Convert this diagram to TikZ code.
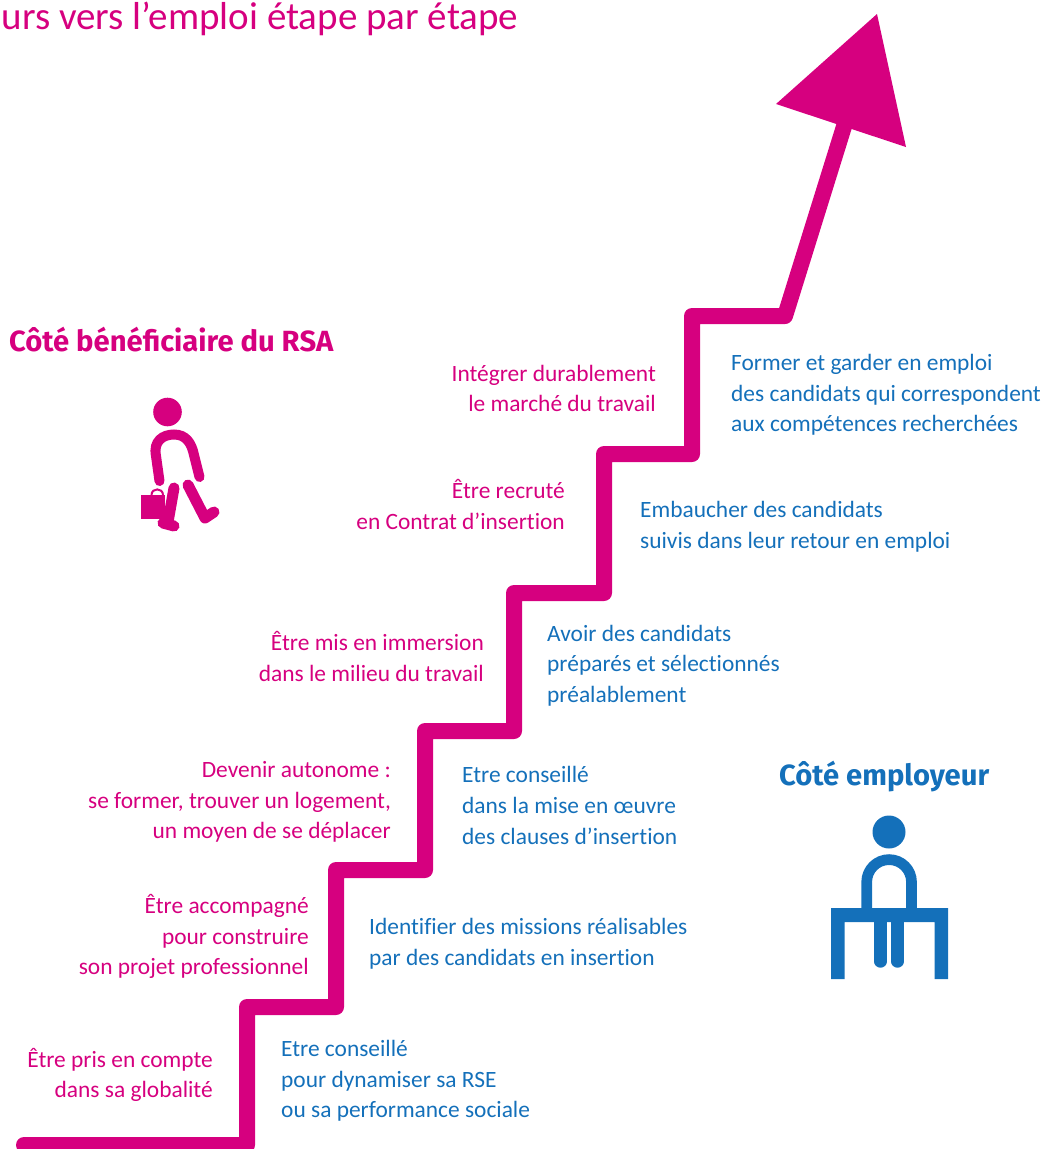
\documentclass[tikz,border=0pt]{standalone}
\usepackage{fontspec}
\setmainfont[Ligatures=NoCommon]{Carlito}
\newfontfamily\headf{Fira Sans}
\definecolor{mag}{HTML}{D6007F}
\definecolor{blu}{HTML}{1470BA}
\tikzset{
 lbl/.style={font=\fontsize{23.4}{30.6}\selectfont,inner sep=0pt},
 magl/.style={lbl,text=mag,align=right,anchor=east},
 blul/.style={lbl,text=blu,align=left,anchor=west},
 head/.style={font=\headf\fontsize{29.2}{32}\selectfont\bfseries,inner sep=0pt,anchor=base west},
 stair/.style={draw=mag,line width=16pt,line join=round,line cap=round},
}
\begin{document}
\begin{tikzpicture}[x=1pt,y=-1pt]
\useasboundingbox (0,0) rectangle (1046,1149);
\clip (0,0) rectangle (1046,1149);
% staircase
\draw[stair] (24,1145) -- (247,1145) -- (247,1007) -- (336,1007) -- (336,870) -- (425,870) -- (425,731) -- (514,731) -- (514,593) -- (604,593) -- (604,454) -- (692,454) -- (692,316) -- (785,316) -- (846,120);
\fill[mag] (877,14) -- (776,104) -- (906,147) -- cycle;
% title
\node[inner sep=0pt,anchor=base west,text=mag,font=\fontsize{39}{42}\selectfont] (title) at (1.5,29) {urs vers l’emploi étape par étape};
% headings
\node[head,text=mag] (hb) at (9,351) {Côté bénéficiaire du RSA};
\node[head,text=blu] (he) at (779,785) {Côté employeur};
% magenta labels
\node[magl] (m6) at (656,388.5) {Intégrer durablement\\le marché du travail};
\node[magl] (m5) at (565,504.5) {Être recruté\\en Contrat d’insertion};
\node[magl] (m4) at (484,656.5) {Être mis en immersion\\dans le milieu du travail};
\node[magl] (m3) at (391,802) {Devenir autonome :\\se former, trouver un logement,\\un moyen de se déplacer};
\node[magl] (m2) at (309,936.5) {Être accompagné\\pour construire\\son projet professionnel};
\node[magl] (m1) at (213,1075) {Être pris en compte\\dans sa globalité};
% blue labels
\node[blul] (b6) at (731,395) {Former et garder en emploi\\des candidats qui correspondent\\aux compétences recherchées};
\node[blul] (b5) at (640,526.5) {Embaucher des candidats\\suivis dans leur retour en emploi};
\node[blul] (b4) at (547,665.5) {Avoir des candidats\\préparés et sélectionnés\\préalablement};
\node[blul] (b3) at (462,805.5) {Etre conseillé\\dans la mise en œuvre\\des clauses d’insertion};
\node[blul] (b2) at (369,943.5) {Identifier des missions réalisables\\par des candidats en insertion};
\node[blul] (b1) at (281,1081) {Etre conseillé\\pour dynamiser sa RSE\\ou sa performance sociale};
% walking figure
\fill[mag] (167.5,412) circle (14.3);
\draw[mag,line width=10pt,line cap=round] (159.5,481) -- (156,456) .. controls (153,441) and (163,434.5) .. (174,434.5) .. controls (186,434.5) and (191.5,443) .. (194,455) -- (199.5,477);
\fill[mag] (141,495) rectangle (165,519);
\draw[mag,line width=2pt] (151.5,495) .. controls (151.5,487.5) and (163,487.5) .. (163,495);
\draw[mag,line width=11pt,line cap=round,line join=round] (174,488) -- (168,522) (163,523) -- (174,526);
\draw[mag,line width=11pt,line cap=round,line join=round] (188,485) -- (205,518) -- (214,512);
% employer figure
\fill[blu] (889,832) circle (16.5);
\draw[blu,line width=10.7pt] (866.7,908) -- (866.7,882) arc (180:360:22.4) -- (911.5,908);
\fill[blu] (831,979) -- (831,908) -- (948,908) -- (948,979) -- (934.5,979) -- (934.5,922) -- (844.5,922) -- (844.5,979) -- cycle;
\draw[blu,line width=12.4pt,line cap=round] (880.5,915) -- (880.5,961.5) (897.5,915) -- (897.5,961.5);
\end{tikzpicture}
\end{document}
